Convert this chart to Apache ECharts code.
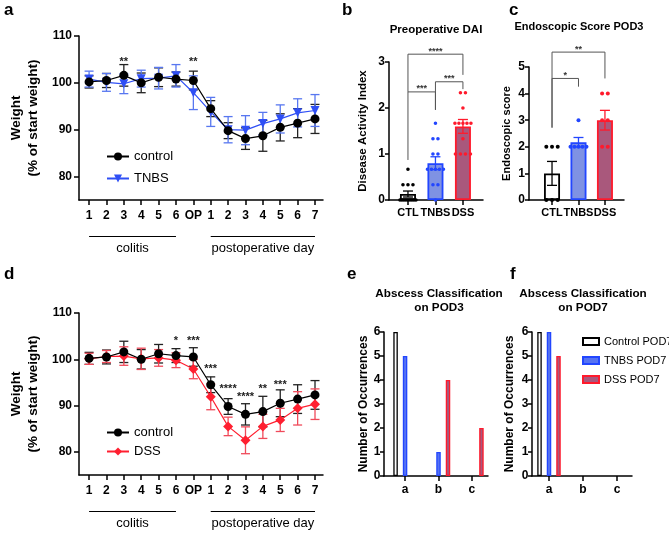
<!DOCTYPE html>
<html><head><meta charset="utf-8">
<script src="https://cdn.jsdelivr.net/npm/echarts@6/dist/echarts.min.js"></script>
<style>html,body{margin:0;padding:0;background:#fff}#c{width:669px;height:533px}</style>
</head><body><div id="c"></div>
<script>
const FF = "'Liberation Sans', Arial, Helvetica, sans-serif";

// ---- panels a / d : weight curves ----
const dayLabels = ['1','2','3','4','5','6','OP','1','2','3','4','5','6','7'];
const controlWeight    = [100.2, 100.5, 101.6, 100.0, 101.2, 100.8, 100.5, 94.5, 89.8, 88.1, 88.7, 90.5, 91.4, 92.3];
const controlWeightErr = [1.3, 1.5, 2.3, 2.1, 2.0, 1.5, 2.0, 1.7, 1.7, 2.3, 3.3, 2.9, 3.1, 3.1];
const tnbsWeight       = [100.8, 100.1, 99.8, 100.9, 101.0, 101.5, 97.9, 93.8, 90.0, 89.9, 91.3, 92.3, 93.6, 94.1];
const tnbsWeightErr    = [1.7, 1.9, 2.1, 1.8, 2.3, 2.4, 3.6, 3.1, 2.8, 3.1, 2.4, 3.0, 3.0, 3.4];
const dssWeight        = [100.1, 100.6, 100.7, 100.1, 100.3, 99.8, 97.9, 91.9, 85.5, 82.5, 85.5, 86.9, 89.4, 90.3];
const dssWeightErr     = [1.2, 1.3, 2.0, 2.3, 1.8, 1.6, 2.1, 2.8, 2.0, 2.9, 2.6, 2.5, 3.6, 3.3];
const weightTicks = [80, 90, 100, 110];
const starsA = [[2, 105.0, '**'], [6, 105.0, '**']];
const starsD = [[5, 104.5, '*'], [6, 104.5, '***'], [7, 98.4, '***'], [8, 94.2, '****'], [9, 92.3, '****'], [10, 94.2, '**'], [11, 95.0, '***']];
const periods = [[0, 5, 'colitis'], [7, 13, 'postoperative day']];

// ---- panels b / c ----
const groups = ['CTL', 'TNBS', 'DSS'];
const daiMean = [0.13, 0.80, 1.60];
const daiErr  = [0.065, 0.14, 0.15];
const daiCTL  = [0.67, 0.33, 0.33, 0.33, 0, 0, 0, 0, 0, 0, 0, 0, 0];
const daiTNBS = [1.67, 1.33, 1.33, 1.0, 1.0, 0.67, 0.67, 0.67, 0.67, 0.67, 0.33, 0.33, 0];
const daiDSS  = [2.33, 2.33, 2.0, 1.67, 1.67, 1.67, 1.67, 1.67, 1.33, 1.0, 1.0, 1.0, 1.0];
const daiTicks = [0, 1, 2, 3];
const bracketsB = [[0, 2, 3.17, 2.35, 2.72, '****'], [0, 1, 2.35, 0.87, 1.96, '***'], [1, 2, 2.57, 1.96, 2.41, '***']];

const endoMean = [1.0, 2.17, 3.0];
const endoErr  = [0.45, 0.18, 0.37];
const endoCTL  = [2, 2, 2, 0, 0, 0];
const endoTNBS = [3, 2, 2, 2, 2, 2];
const endoDSS  = [4, 4, 3, 3, 2, 2];
const endoTicks = [0, 1, 2, 3, 4, 5];
const bracketsC = [[0, 2, 5.56, 2.72, 4.57, '**'], [0, 1, 4.57, 2.72, 4.26, '*']];

// ---- panels e / f ----
const abscessClasses = ['a', 'b', 'c'];
const pod3Control = [6, 0, 0];
const pod3TNBS    = [5, 1, 0];
const pod3DSS     = [0, 4, 2];
const pod7Control = [6, 0, 0];
const pod7TNBS    = [6, 0, 0];
const pod7DSS     = [5, 0, 0];
const countTicks = [0, 1, 2, 3, 4, 5, 6];

// ---- styles ----
const BLUE = '#2f4ff5', BLUE_ERR = '#5877f0';
const RED = '#ff1f30', RED_ERR = '#f04a5a';
const barFillBC = ['#ffffff', '#7f92e3', '#a9587c'];
const barFillEF = ['#ffffff', '#5673f2', '#a9587c'];
const barStroke = ['#000000', '#2246ff', '#ff1a2c'];
const dotColor = ['#000000', '#2246ff', '#ff1a2c'];

const pairs = arr => arr.map((v, i) => [i, v]);
// zero-height bars are not drawn in the original (no outline on the axis)
const barPairs = arr => arr.map((v, i) => (v === 0 ? [i, '-'] : [i, v]));
const errPairs = (m, e) => m.map((v, i) => [i, v - e[i], v + e[i]]);

function dotData(arrays, maxSpread, step) {
  const out = [];
  arrays.forEach((arr, g) => {
    const counts = {}, seen = {};
    arr.forEach(v => counts[v] = (counts[v] || 0) + 1);
    arr.forEach(v => {
      const n = counts[v];
      const k = (seen[v] = (seen[v] || 0) + 1) - 1;
      const s = n > 1 ? Math.min(step, maxSpread / (n - 1)) : 0;
      out.push([g, v, (k - (n - 1) / 2) * s]);
    });
  });
  return out;
}

function errorBarItem(capHalf, colors) {
  return function (params, api) {
    const x = api.value(0), lo = api.value(1), hi = api.value(2);
    const t = api.coord([x, hi]), b = api.coord([x, lo]);
    const st = { stroke: colors ? colors[params.dataIndex] : api.visual('color'), lineWidth: 1.3, fill: null };
    return { type: 'group', children: [
      { type: 'line', shape: { x1: t[0], y1: t[1], x2: b[0], y2: b[1] }, style: st },
      { type: 'line', shape: { x1: t[0] - capHalf, y1: t[1], x2: t[0] + capHalf, y2: t[1] }, style: st },
      { type: 'line', shape: { x1: b[0] - capHalf, y1: b[1], x2: b[0] + capHalf, y2: b[1] }, style: st }
    ]};
  };
}
function dotItem(r) {
  return function (params, api) {
    const g = api.value(0);
    const p = api.coord([g, api.value(1)]);
    return { type: 'circle', shape: { cx: p[0] + api.value(2), cy: p[1], r }, style: { fill: dotColor[g] } };
  };
}
function bracketItem(list, fs) {
  return function (params, api) {
    const b = list[params.dataIndex];
    const t1 = api.coord([b[0], b[2]]), t2 = api.coord([b[1], b[2]]);
    const p1 = api.coord([b[0], b[3]]), p2 = api.coord([b[1], b[4]]);
    return { type: 'group', children: [
      { type: 'polyline', shape: { points: [p1, t1, t2, p2] }, style: { stroke: '#555', lineWidth: 1, fill: null } },
      { type: 'text', style: { text: b[5], x: (t1[0] + t2[0]) / 2, y: t1[1] - 3, align: 'center', verticalAlign: 'middle', font: 'bold ' + fs + 'px ' + FF, fill: '#333' } }
    ]};
  };
}
function starItem(list) {
  return function (params, api) {
    const s = list[params.dataIndex];
    const p = api.coord([s[0], s[1]]);
    return { type: 'text', style: { text: s[2], x: p[0], y: p[1] + 2.5, align: 'center', verticalAlign: 'middle', font: 'bold 11px ' + FF, fill: '#222' } };
  };
}
function periodItem(yMin) {
  return function (params, api) {
    const s = periods[params.dataIndex];
    const a = api.coord([s[0], yMin]), b = api.coord([s[1], yMin]);
    const y = a[1] + 36.5;
    return { type: 'group', children: [
      { type: 'line', shape: { x1: a[0], y1: y, x2: b[0], y2: y }, style: { stroke: '#000', lineWidth: 1 } },
      { type: 'text', style: { text: s[2], x: (a[0] + b[0]) / 2, y: y + 12, align: 'center', verticalAlign: 'middle', font: '13px ' + FF, fill: '#000' } }
    ]};
  };
}

const axisLineStyle = { color: '#000', width: 1.5 };
function xAx(grid, min, max, ticks, labels, margin, fs) {
  return { type: 'value', gridIndex: grid, min, max,
    axisLine: { show: true, onZero: false, lineStyle: axisLineStyle },
    axisTick: { show: true, length: 5, customValues: ticks, lineStyle: axisLineStyle },
    axisLabel: { show: true, customValues: ticks, formatter: v => labels[Math.round(v)], margin, color: '#000', fontSize: fs, fontWeight: 'bold', fontFamily: FF },
    splitLine: { show: false } };
}
function yAx(grid, min, max, ticks, name, gap, nameFs, tickLen, labelMargin) {
  return { type: 'value', gridIndex: grid, min, max,
    axisLine: { show: true, onZero: false, lineStyle: axisLineStyle },
    axisTick: { show: true, length: tickLen, customValues: ticks, lineStyle: axisLineStyle },
    axisLabel: { show: true, customValues: ticks, margin: labelMargin, color: '#000', fontSize: 12, fontWeight: 'bold', fontFamily: FF },
    splitLine: { show: false },
    name, nameLocation: 'middle', nameGap: gap, nameMoveOverlap: false,
    nameTextStyle: { color: '#000', fontSize: nameFs, fontWeight: 'bold', fontFamily: FF, lineHeight: nameFs + 3 } };
}

const dayIdx = dayLabels.map((_, i) => i);
const grpIdx = [0, 1, 2];

const option = {
  animation: false,
  backgroundColor: '#fff',
  grid: [
    { left: 79, top: 36, width: 244, height: 164, outerBoundsMode: 'none', containLabel: false },
    { left: 389, top: 62, width: 94, height: 138, outerBoundsMode: 'none', containLabel: false },
    { left: 529, top: 67, width: 95, height: 133, outerBoundsMode: 'none', containLabel: false },
    { left: 79, top: 313, width: 244, height: 162, outerBoundsMode: 'none', containLabel: false },
    { left: 384, top: 332, width: 104, height: 144, outerBoundsMode: 'none', containLabel: false },
    { left: 532, top: 332, width: 100, height: 144, outerBoundsMode: 'none', containLabel: false }
  ],
  xAxis: [
    xAx(0, -0.58, 13.46, dayIdx, dayLabels, 10, 12),
    xAx(1, -0.69, 2.73, grpIdx, groups, 7, 11),
    xAx(2, -0.87, 2.72, grpIdx, groups, 7, 11),
    xAx(3, -0.58, 13.46, dayIdx, dayLabels, 10, 12),
    xAx(4, -0.63, 2.48, grpIdx, abscessClasses, 8, 12),
    xAx(5, -0.5, 2.44, grpIdx, abscessClasses, 8, 12)
  ],
  yAxis: [
    yAx(0, 75, 110, weightTicks, 'Weight\n(% of start weight)', 37.5, 13.5, 5, 7),
    yAx(1, 0, 3, daiTicks, 'Disease Activity Index', 19, 11.5, 4, 4),
    yAx(2, 0, 5, endoTicks, 'Endoscopic score', 15, 11, 4, 4),
    yAx(3, 75, 110, weightTicks, 'Weight\n(% of start weight)', 37.5, 13.5, 5, 7),
    yAx(4, 0, 6, countTicks, 'Number of Occurrences', 13, 12, 4, 3.5),
    yAx(5, 0, 6, countTicks, 'Number of Occurrences', 15, 12, 4, 3.5)
  ],
  legend: [
    { data: ['control', 'TNBS'], orient: 'vertical', left: 101, top: 145, itemWidth: 22, itemHeight: 10, itemGap: 9, selectedMode: false, textStyle: { fontSize: 13, color: '#000', fontFamily: FF } },
    { data: ['control', 'DSS'], orient: 'vertical', left: 101, top: 421, itemWidth: 22, itemHeight: 10, itemGap: 6, selectedMode: false, textStyle: { fontSize: 13, color: '#000', fontFamily: FF } },
    { data: ['Control POD7', 'TNBS POD7', 'DSS POD7'], orient: 'vertical', left: 577, top: 331, icon: 'rect', itemWidth: 16, itemHeight: 7, itemGap: 8, selectedMode: false, textStyle: { fontSize: 11, color: '#000', fontFamily: FF } }
  ],
  graphic: [
    { type: 'text', style: { text: 'a', x: 4, y: 2, font: 'bold 17px ' + FF, fill: '#000' } },
    { type: 'text', style: { text: 'b', x: 342, y: 2, font: 'bold 17px ' + FF, fill: '#000' } },
    { type: 'text', style: { text: 'c', x: 509, y: 2, font: 'bold 17px ' + FF, fill: '#000' } },
    { type: 'text', style: { text: 'd', x: 4, y: 266, font: 'bold 17px ' + FF, fill: '#000' } },
    { type: 'text', style: { text: 'e', x: 347, y: 266, font: 'bold 17px ' + FF, fill: '#000' } },
    { type: 'text', style: { text: 'f', x: 510, y: 266, font: 'bold 17px ' + FF, fill: '#000' } },
    { type: 'text', style: { text: 'Preoperative DAI', x: 436, y: 30, align: 'center', verticalAlign: 'middle', font: 'bold 11.5px ' + FF, fill: '#000' } },
    { type: 'text', style: { text: 'Endoscopic Score POD3', x: 579, y: 27, align: 'center', verticalAlign: 'middle', font: 'bold 11px ' + FF, fill: '#000' } },
    { type: 'text', style: { text: 'Abscess Classification\non POD3', x: 439, y: 301, align: 'center', verticalAlign: 'middle', lineHeight: 14, font: 'bold 11.7px ' + FF, fill: '#000' } },
    { type: 'text', style: { text: 'Abscess Classification\non POD7', x: 583, y: 301, align: 'center', verticalAlign: 'middle', lineHeight: 14, font: 'bold 11.7px ' + FF, fill: '#000' } }
  ],
  series: [
    // ---- a ----
    { type: 'custom', name: 'errA_ctl', xAxisIndex: 0, yAxisIndex: 0, itemStyle: { color: '#222' }, data: errPairs(controlWeight, controlWeightErr), renderItem: errorBarItem(4.5), z: 3 },
    { type: 'custom', name: 'errA_tnbs', xAxisIndex: 0, yAxisIndex: 0, itemStyle: { color: BLUE_ERR }, data: errPairs(tnbsWeight, tnbsWeightErr), renderItem: errorBarItem(4.5), z: 3 },
    { type: 'line', name: 'TNBS', xAxisIndex: 0, yAxisIndex: 0, data: pairs(tnbsWeight), symbol: 'triangle', symbolRotate: 180, symbolSize: 9, itemStyle: { color: BLUE }, lineStyle: { color: BLUE, width: 1.2 }, z: 4 },
    { type: 'line', name: 'control', xAxisIndex: 0, yAxisIndex: 0, data: pairs(controlWeight), symbol: 'circle', symbolSize: 9, itemStyle: { color: '#000' }, lineStyle: { color: '#000', width: 1.2 }, z: 5 },
    { type: 'custom', name: 'starsA', xAxisIndex: 0, yAxisIndex: 0, data: starsA.map(s => [s[0], s[1]]), renderItem: starItem(starsA), z: 6 },
    { type: 'custom', name: 'periodsA', xAxisIndex: 0, yAxisIndex: 0, clip: false, data: periods.map(p => [p[0], 75]), renderItem: periodItem(75), z: 6 },
    // ---- d ----
    { type: 'custom', name: 'errD_ctl', xAxisIndex: 3, yAxisIndex: 3, itemStyle: { color: '#222' }, data: errPairs(controlWeight, controlWeightErr), renderItem: errorBarItem(4.5), z: 3 },
    { type: 'custom', name: 'errD_dss', xAxisIndex: 3, yAxisIndex: 3, itemStyle: { color: RED_ERR }, data: errPairs(dssWeight, dssWeightErr), renderItem: errorBarItem(4.5), z: 3 },
    { type: 'line', name: 'DSS', xAxisIndex: 3, yAxisIndex: 3, data: pairs(dssWeight), symbol: 'diamond', symbolSize: 10, itemStyle: { color: RED }, lineStyle: { color: RED, width: 1.2 }, z: 4 },
    { type: 'line', name: 'control', xAxisIndex: 3, yAxisIndex: 3, data: pairs(controlWeight), symbol: 'circle', symbolSize: 9, itemStyle: { color: '#000' }, lineStyle: { color: '#000', width: 1.2 }, z: 5 },
    { type: 'custom', name: 'starsD', xAxisIndex: 3, yAxisIndex: 3, data: starsD.map(s => [s[0], s[1]]), renderItem: starItem(starsD), z: 6 },
    { type: 'custom', name: 'periodsD', xAxisIndex: 3, yAxisIndex: 3, clip: false, data: periods.map(p => [p[0], 75]), renderItem: periodItem(75), z: 6 },
    // ---- b ----
    { type: 'bar', name: 'DAI', xAxisIndex: 1, yAxisIndex: 1, barWidth: 16,
      data: daiMean.map((v, i) => ({ value: [i, v], itemStyle: { color: barFillBC[i], borderColor: barStroke[i], borderWidth: 1.8 } })), z: 2 },
    { type: 'custom', name: 'dotsB', xAxisIndex: 1, yAxisIndex: 1, clip: false, data: dotData([daiCTL, daiTNBS, daiDSS], 16, 5), renderItem: dotItem(1.8), z: 3 },
    { type: 'custom', name: 'errB', xAxisIndex: 1, yAxisIndex: 1, data: errPairs(daiMean, daiErr), renderItem: errorBarItem(5, barStroke), z: 4 },
    { type: 'custom', name: 'brB', xAxisIndex: 1, yAxisIndex: 1, clip: false, data: bracketsB.map(b => [b[0], b[2]]), renderItem: bracketItem(bracketsB, 9), z: 5 },
    // ---- c ----
    { type: 'bar', name: 'Endo', xAxisIndex: 2, yAxisIndex: 2, barWidth: 16,
      data: endoMean.map((v, i) => ({ value: [i, v], itemStyle: { color: barFillBC[i], borderColor: barStroke[i], borderWidth: 1.8 } })), z: 2 },
    { type: 'custom', name: 'dotsC', xAxisIndex: 2, yAxisIndex: 2, clip: false, data: dotData([endoCTL, endoTNBS, endoDSS], 16, 5.7), renderItem: dotItem(2), z: 3 },
    { type: 'custom', name: 'errC', xAxisIndex: 2, yAxisIndex: 2, data: errPairs(endoMean, endoErr), renderItem: errorBarItem(5, barStroke), z: 4 },
    { type: 'custom', name: 'brC', xAxisIndex: 2, yAxisIndex: 2, clip: false, data: bracketsC.map(b => [b[0], b[2]]), renderItem: bracketItem(bracketsC, 9), z: 5 },
    // ---- e ----
    { type: 'bar', name: 'Control POD3', xAxisIndex: 4, yAxisIndex: 4, barWidth: 4.5, barGap: '111%', data: barPairs(pod3Control), itemStyle: { color: barFillEF[0], borderColor: barStroke[0], borderWidth: 1.3 } },
    { type: 'bar', name: 'TNBS POD3', xAxisIndex: 4, yAxisIndex: 4, barWidth: 4.5, barGap: '111%', data: barPairs(pod3TNBS), itemStyle: { color: barFillEF[1], borderColor: barStroke[1], borderWidth: 1.3 } },
    { type: 'bar', name: 'DSS POD3', xAxisIndex: 4, yAxisIndex: 4, barWidth: 4.5, barGap: '111%', data: barPairs(pod3DSS), itemStyle: { color: barFillEF[2], borderColor: barStroke[2], borderWidth: 1.3 } },
    // ---- f ----
    { type: 'bar', name: 'Control POD7', xAxisIndex: 5, yAxisIndex: 5, barWidth: 4.5, barGap: '111%', data: barPairs(pod7Control), itemStyle: { color: barFillEF[0], borderColor: barStroke[0], borderWidth: 1.3 } },
    { type: 'bar', name: 'TNBS POD7', xAxisIndex: 5, yAxisIndex: 5, barWidth: 4.5, barGap: '111%', data: barPairs(pod7TNBS), itemStyle: { color: barFillEF[1], borderColor: barStroke[1], borderWidth: 1.3 } },
    { type: 'bar', name: 'DSS POD7', xAxisIndex: 5, yAxisIndex: 5, barWidth: 4.5, barGap: '111%', data: barPairs(pod7DSS), itemStyle: { color: barFillEF[2], borderColor: barStroke[2], borderWidth: 1.3 } }
  ]
};

const chart = echarts.init(document.getElementById('c'), null, { renderer: 'canvas' });
chart.setOption(option);
</script>
</body></html>
